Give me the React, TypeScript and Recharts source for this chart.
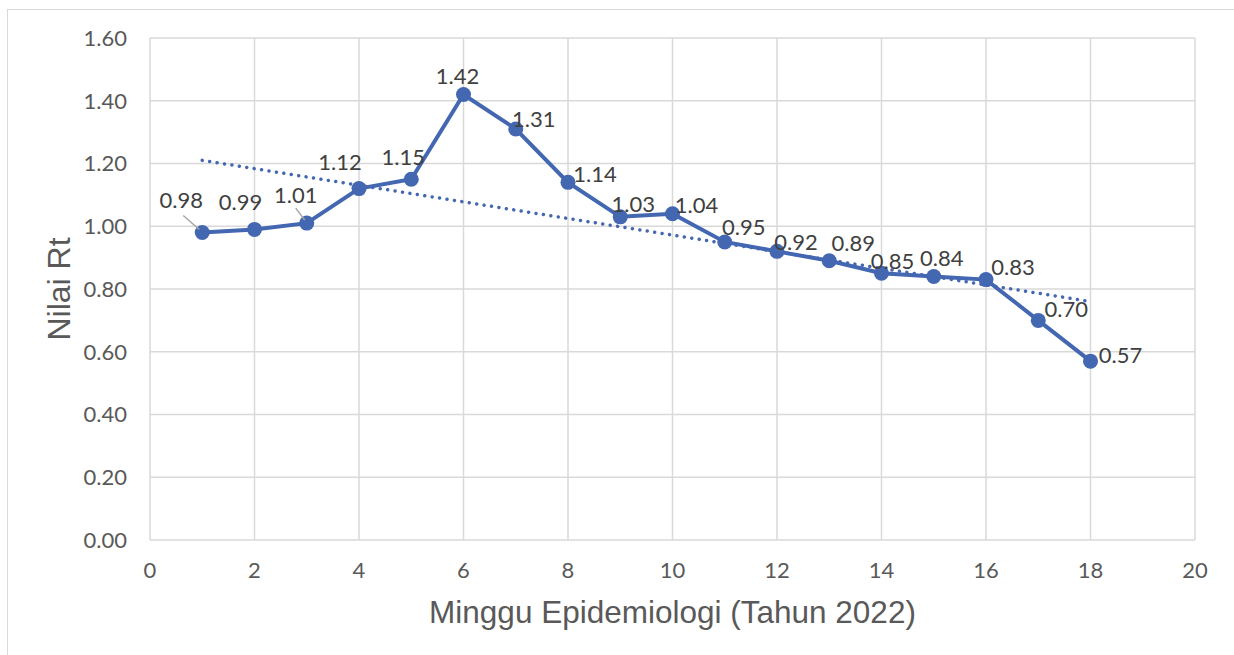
import {
  ComposedChart,
  Line,
  XAxis,
  YAxis,
  CartesianGrid
} from "recharts";

// minggu epidemiologi 1..18
const weeks = [1, 2, 3, 4, 5, 6, 7, 8, 9, 10, 11, 12, 13, 14, 15, 16, 17, 18];
const rtValues = [
  0.98, 0.99, 1.01, 1.12, 1.15, 1.42, 1.31, 1.14, 1.03, 1.04, 0.95, 0.92, 0.89,
  0.85, 0.84, 0.83, 0.7, 0.57
];

// linear trendline, endpoints
const trendWeeks = [1, 18];
const trendValues = [1.21, 0.76];

const xTicks = [0, 2, 4, 6, 8, 10, 12, 14, 16, 18, 20];
const yTicks = [0, 0.2, 0.4, 0.6, 0.8, 1.0, 1.2, 1.4, 1.6];

// where each data label sits relative to its point (moved by hand in the original)
const labelOffsets = [
  [-21, -33], [-14, -28], [-11, -29], [-19, -27], [-8, -23], [-6, -19],
  [18, -10], [27, -9], [13, -13], [24, -9], [19, -15], [19, -10],
  [24, -18], [11, -13], [8, -19], [27, -13], [28, -12], [30, -7]
];
// leader lines for labels 1 and 3
const leaders: Record<number, number[]> = {
  0: [-19, -17, -3, -3],
  2: [-11, -15, -2, -3]
};

const mainData = weeks.map((w, i) => ({ x: w, y: rtValues[i] }));
const trendData = trendWeeks.map((w, i) => ({ x: w, y: trendValues[i] }));

const BLUE = "#4467B2";
const GRID = "#d9d9d9";
const tickFont = { fontFamily: "Lato", fontSize: 22, fill: "#595959" };

function DataLabel(props: any) {
  const { x, y, index, value } = props;
  const [dx, dy] = labelOffsets[index] || [0, -20];
  const ld = leaders[index];
  return (
    <g>
      {ld && (
        <line
          x1={x + ld[0]}
          y1={y + ld[1]}
          x2={x + ld[2]}
          y2={y + ld[3]}
          stroke="#a6a6a6"
          strokeWidth={1.5}
        />
      )}
      <text
        x={x + dx}
        y={y + dy}
        textAnchor="middle"
        dominantBaseline="central"
        fontFamily="Lato"
        fontSize={22}
        fill="#404040"
      >
        {Number(value).toFixed(2)}
      </text>
    </g>
  );
}

function XTitle(props: any) {
  const vb = props.viewBox;
  return (
    <text
      x={vb.x + vb.width / 2}
      y={vb.y + 72}
      textAnchor="middle"
      dominantBaseline="central"
      fontFamily="Liberation Sans, Arial"
      fontSize={31.5}
      fill="#595959"
    >
      Minggu Epidemiologi (Tahun 2022)
    </text>
  );
}

function YTitle(props: any) {
  const vb = props.viewBox;
  const cx = 59;
  const cy = vb.y + vb.height / 2;
  return (
    <text
      x={cx}
      y={cy}
      transform={`rotate(-90 ${cx} ${cy})`}
      textAnchor="middle"
      dominantBaseline="central"
      fontFamily="Liberation Sans, Arial"
      fontSize={32}
      fill="#595959"
    >
      Nilai Rt
    </text>
  );
}

export default function App() {
  return (
    <div
      style={{
        position: "absolute",
        left: 0,
        top: 0,
        width: 1234,
        height: 655,
        background: "#fff",
        overflow: "hidden"
      }}
    >
      {/* chart frame, only top/left edges visible */}
      <div
        style={{
          position: "absolute",
          left: 7,
          top: 9,
          width: 1300,
          height: 700,
          borderLeft: "1.5px solid " + GRID,
          borderTop: "1.5px solid " + GRID
        }}
      />
      <div style={{ position: "absolute", left: 0, top: 0 }}>
        <ComposedChart
          width={1234}
          height={655}
          margin={{ top: 38, right: 39, bottom: 0, left: 0 }}
        >
          <CartesianGrid stroke={GRID} strokeWidth={1.5} />
          <XAxis
            dataKey="x"
            type="number"
            domain={[0, 20]}
            ticks={xTicks}
            axisLine={false}
            tickLine={false}
            tickSize={6}
            tickMargin={16}
            height={115}
            tick={tickFont}
            allowDuplicatedCategory={false}
            label={{ content: XTitle }}
          />
          <YAxis
            type="number"
            domain={[0, 1.6]}
            ticks={yTicks}
            axisLine={false}
            tickLine={false}
            tickSize={6}
            tickMargin={17}
            width={150}
            tick={tickFont}
            tickFormatter={(v: number) => v.toFixed(2)}
            label={{ content: YTitle }}
          />
          <Line
            data={mainData}
            dataKey="y"
            stroke={BLUE}
            strokeWidth={4}
            dot={{ r: 7.5, fill: BLUE, stroke: BLUE, strokeWidth: 0 }}
            activeDot={false}
            label={DataLabel}
            isAnimationActive={false}
          />
          <Line
            data={trendData}
            dataKey="y"
            stroke={BLUE}
            strokeWidth={3.5}
            strokeLinecap="round"
            strokeDasharray="0.01 7.5"
            dot={false}
            activeDot={false}
            isAnimationActive={false}
          />
        </ComposedChart>
      </div>
    </div>
  );
}
